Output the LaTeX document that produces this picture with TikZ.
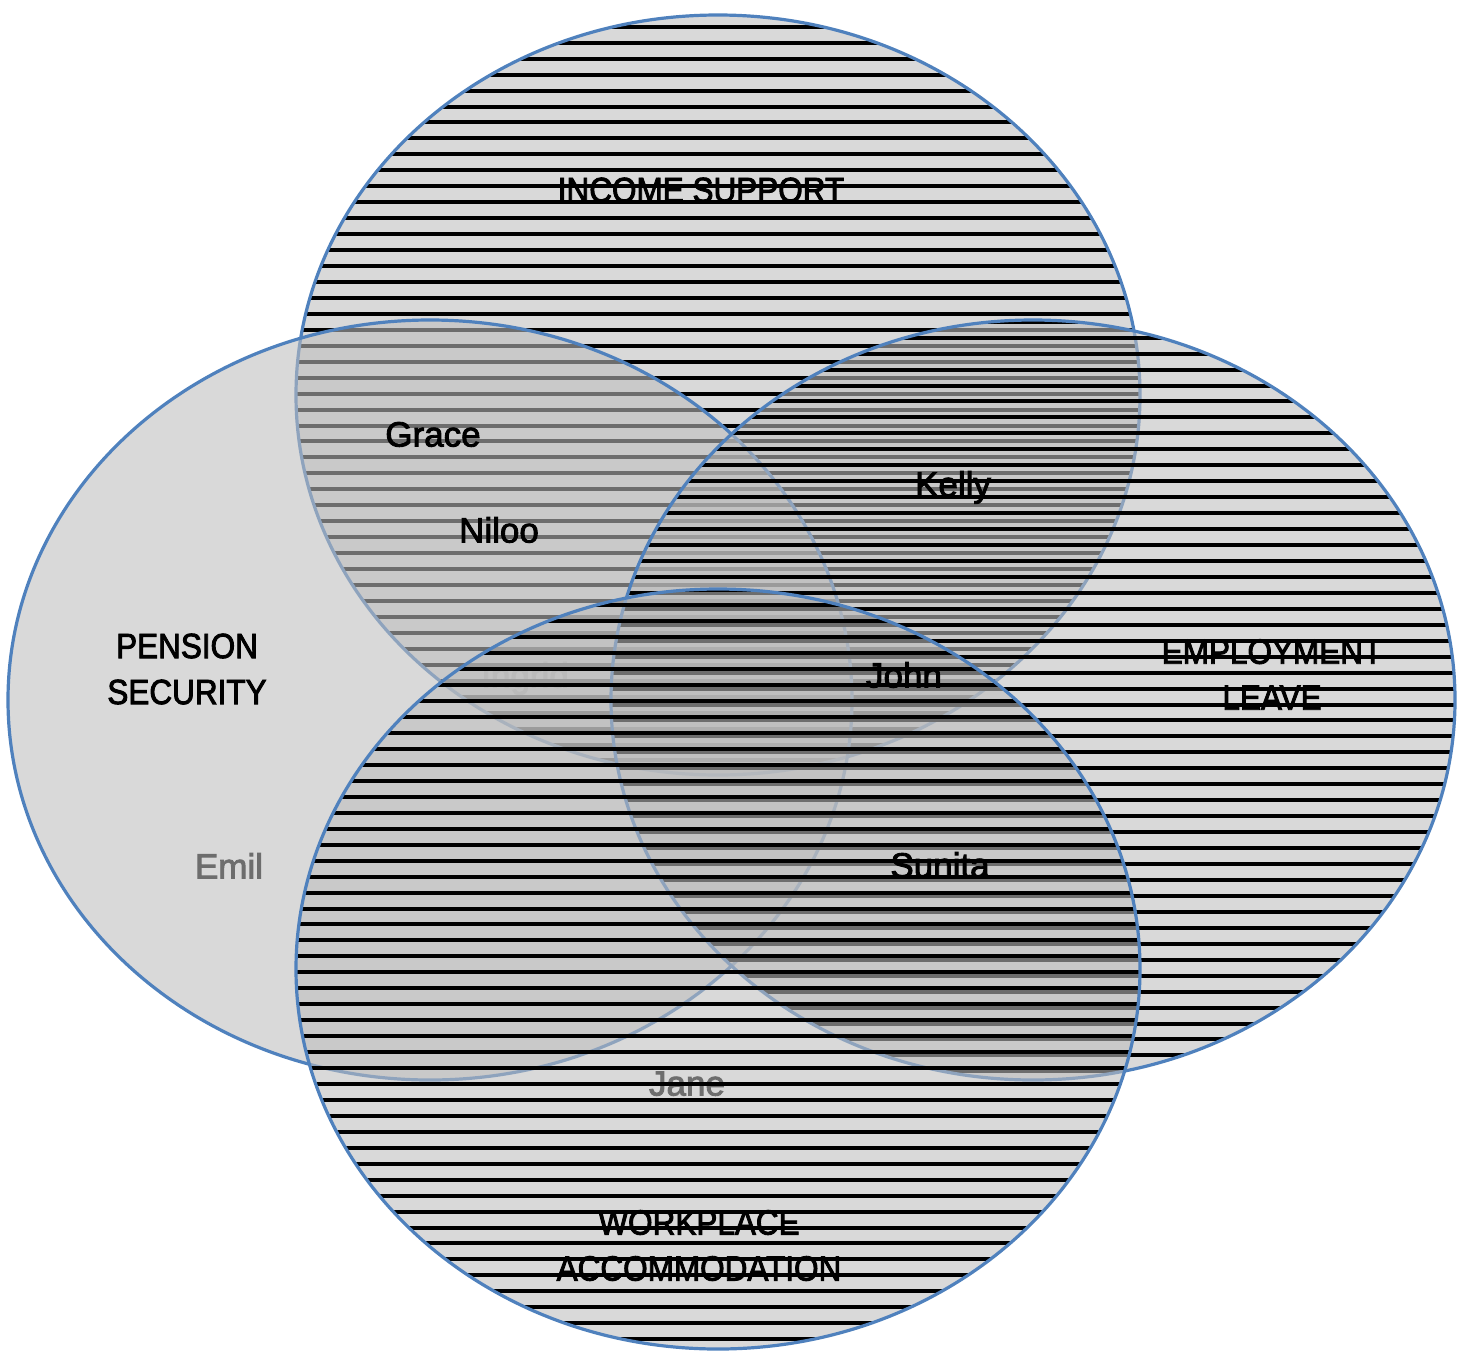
\documentclass[tikz,border=0pt]{standalone}
\usepackage{fontspec}
\setmainfont{Liberation Sans}
\newfontfamily\namefont{Liberation Sans}[FakeBold=2.5]
\newfontfamily\capsfont{Liberation Sans}[FakeStretch=0.9,FakeBold=2.5]
\definecolor{rimblue}{HTML}{4F81BD}

\begin{document}
\begin{tikzpicture}[x=0.5pt,y=-0.5pt,
  setfill/.style={fill=black!26, fill opacity=0.58},
  rim/.style={draw=rimblue, line width=1.6pt},
  hatch/.style={draw=black, line width=2pt},
  setlabel/.style={font=\capsfont\fontsize{17.5}{23}\selectfont, align=center, inner sep=0pt},
  member/.style={font=\namefont\fontsize{17.5}{21}\selectfont, anchor=base, inner sep=0pt},
]
\useasboundingbox (0,0) rectangle (1466,1355);
\def\rx{211pt}
\def\ry{190pt}

% a name lying underneath every set
\node[member, text=black!40] (ingrid) at (525,687.5) {Ingrid};

% ---- income support (top) ----
\path[setfill] (718,395) ellipse [x radius=\rx, y radius=\ry];
\node[setlabel] (income) at (701,190) {INCOME SUPPORT};
\begin{scope}
  \clip (718,395) ellipse [x radius=\rx, y radius=\ry];
  \foreach \y in {10.8,26.75,...,780} \draw[hatch] (290,\y) -- (1150,\y);
\end{scope}
\path[rim] (718,395) ellipse [x radius=\rx, y radius=\ry];

% ---- pension security (left), no hatching ----
\node[member] (emil) at (229,878.5) {Emil};
\path[setfill] (430,700) ellipse [x radius=\rx, y radius=\ry];
\path[rim] (430,700) ellipse [x radius=\rx, y radius=\ry];
\node[setlabel] (pension) at (187,669) {PENSION\\SECURITY};
\node[member] (grace) at (433,446.5) {Grace};
\node[member] (niloo) at (499,542.5) {Niloo};

% ---- employment leave (right) ----
\path[setfill] (1033,700) ellipse [x radius=\rx, y radius=\ry];
\node[setlabel] (employment) at (1272,674.5) {EMPLOYMENT\\LEAVE};
\node[member] (kelly) at (953,496.5) {Kelly};
\begin{scope}
  \clip (1033,700) ellipse [x radius=\rx, y radius=\ry];
  \foreach \y in {2.7,18.65,...,1090} \draw[hatch] (600,\y) -- (1466,\y);
\end{scope}
\path[rim] (1033,700) ellipse [x radius=\rx, y radius=\ry];

% ---- workplace accommodation (bottom) ----
\node[member] (jane) at (687,1095.5) {Jane};
\path[setfill] (718,969) ellipse [x radius=\rx, y radius=\ry];
\node[setlabel] (workplace) at (699,1245.5) {WORKPLACE\\ACCOMMODATION};
\node[member] (john) at (904,687.5) {John};
\node[member] (sunita) at (940,877.5) {Sunita};
\begin{scope}
  \clip (718,969) ellipse [x radius=\rx, y radius=\ry];
  \foreach \y in {15.3,31.25,...,1360} \draw[hatch] (290,\y) -- (1150,\y);
\end{scope}
\path[rim] (718,969) ellipse [x radius=\rx, y radius=\ry];
\end{tikzpicture}
\end{document}
